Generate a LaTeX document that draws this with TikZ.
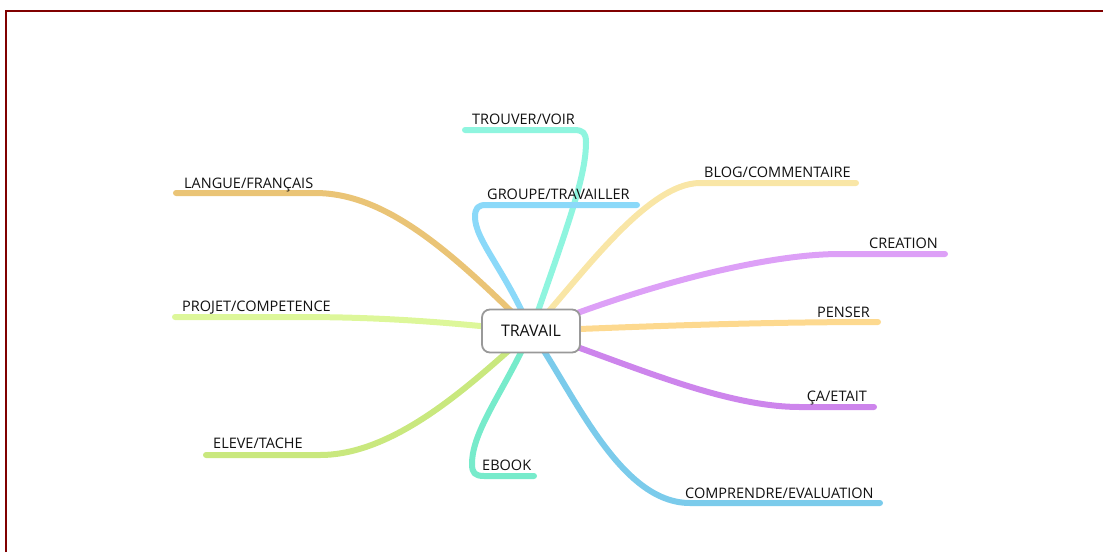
\documentclass[tikz,border=0pt]{standalone}
\usepackage{fontspec}
\setmainfont{Open Sans}
\usepackage{tikz}
\usetikzlibrary{backgrounds}
\usepackage{xcolor}
\definecolor{frameRed}{HTML}{800000}
\definecolor{langueCol}{HTML}{EAC476}
\definecolor{trouverCol}{HTML}{8FF5DF}
\definecolor{groupeCol}{HTML}{8BD9F9}
\definecolor{blogCol}{HTML}{F9E6A6}
\definecolor{creationCol}{HTML}{DDA0F7}
\definecolor{penserCol}{HTML}{FDD98F}
\definecolor{caCol}{HTML}{CD85EC}
\definecolor{comprCol}{HTML}{7BCBEB}
\definecolor{ebookCol}{HTML}{77EBCB}
\definecolor{eleveCol}{HTML}{C9E87E}
\definecolor{projetCol}{HTML}{DDF79A}
\definecolor{txtCol}{HTML}{111111}

\begin{document}
\begin{tikzpicture}[x = 1pt, y = -1pt,
    branch/.style = {line width = 6pt, line cap = round, line join = round},
    lbl/.style = {inner sep = 0pt, text = txtCol, font = \fontsize{14.5}{16}\selectfont},
    root/.style = {draw = black!40, line width = 1.8pt, fill = white, rounded corners = 8pt,
        minimum width = 98pt, minimum height = 43pt, text = txtCol, font = \fontsize{16}{18}\selectfont}]
    \useasboundingbox (0,0) rectangle (1103,552);
    \draw[frameRed, line width = 2pt] (6,552) -- (6,11) -- (1103,11);
    \node[root] (travail) at (531,331) {TRAVAIL};
    \node[lbl, anchor = base west] (langue) at (184,188) {LANGUE/FRANÇAIS};
    \node[lbl, anchor = base west] (trouver) at (472,124) {TROUVER/VOIR};
    \node[lbl, anchor = base west] (groupe) at (487,199) {GROUPE/TRAVAILLER};
    \node[lbl, anchor = base west] (blog) at (704,177) {BLOG/COMMENTAIRE};
    \node[lbl, anchor = base east] (creation) at (938,248) {CREATION};
    \node[lbl, anchor = base east] (penser) at (870,317) {PENSER};
    \node[lbl, anchor = base east] (ca) at (867,401) {ÇA/ETAIT};
    \node[lbl, anchor = base west] (compr) at (685,498) {COMPRENDRE/EVALUATION};
    \node[lbl, anchor = base west] (ebook) at (482,470) {EBOOK};
    \node[lbl, anchor = base west] (eleve) at (213,448) {ELEVE/TACHE};
    \node[lbl, anchor = base west] (projet) at (182,311) {PROJET/COMPETENCE};
    \coordinate (langueE) at (176,193);
    \coordinate (trouverE) at (465,130);
    \coordinate (groupeE) at (637,205);
    \coordinate (blogE) at (856,183);
    \coordinate (creationE) at (945,254);
    \coordinate (penserE) at (878,322);
    \coordinate (caE) at (874,407);
    \coordinate (comprE) at (880,503);
    \coordinate (ebookE) at (534,476);
    \coordinate (eleveE) at (206,455);
    \coordinate (projetE) at (175,317);
    \begin{scope}[on background layer]
        \draw[branch, langueCol] (travail.center) .. controls (450,250) and (385,193) .. (315,193) -- (langueE);
        \draw[branch, trouverCol] (travail.center) .. controls (570,220) and (586,175) .. (586,142)
            .. controls (586,133) and (583,130) .. (574,130) -- (trouverE);
        \draw[branch, groupeCol] (travail.center) .. controls (505,270) and (475,240) .. (475,217)
            .. controls (475,208) and (478,205) .. (486,205) -- (groupeE);
        \draw[branch, blogCol] (travail.center) .. controls (575,285) and (645,183) .. (700,183) -- (blogE);
        \draw[branch, creationCol] (travail.center) .. controls (630,290) and (760,254) .. (840,254) -- (creationE);
        \draw[branch, penserCol] (travail.center) .. controls (650,326) and (760,322) .. (penserE);
        \draw[branch, caCol] (travail.center) .. controls (620,360) and (720,407) .. (800,407) -- (caE);
        \draw[branch, comprCol] (travail.center) .. controls (575,395) and (620,503) .. (690,503) -- (comprE);
        \draw[branch, ebookCol] (travail.center) .. controls (505,390) and (472,430) .. (472,464)
            .. controls (472,473) and (475,476) .. (484,476) -- (ebookE);
        \draw[branch, eleveCol] (travail.center) .. controls (480,375) and (400,455) .. (320,455) -- (eleveE);
        \draw[branch, projetCol] (travail.center) .. controls (470,325) and (400,317) .. (300,317) -- (projetE);
    \end{scope}
\end{tikzpicture}
\end{document}
